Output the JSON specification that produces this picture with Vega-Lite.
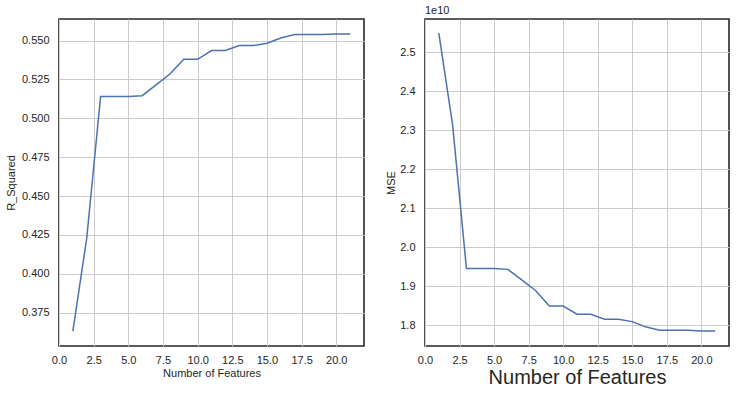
{
  "$schema": "https://vega.github.io/schema/vega-lite/v6.json",
  "padding": {"left": 4, "top": 4, "right": 5, "bottom": 5},
  "background": "white",
  "spacing": 19,
  "datasets": {
    "d": [
      {"n": 1, "r2": 0.3632, "mse": 25490000000},
      {"n": 2, "r2": 0.4229, "mse": 23130000000},
      {"n": 3, "r2": 0.5141, "mse": 19450000000},
      {"n": 4, "r2": 0.5141, "mse": 19450000000},
      {"n": 5, "r2": 0.5141, "mse": 19450000000},
      {"n": 6, "r2": 0.5146, "mse": 19430000000},
      {"n": 7, "r2": 0.5215, "mse": 19160000000},
      {"n": 8, "r2": 0.5285, "mse": 18890000000},
      {"n": 9, "r2": 0.5380, "mse": 18490000000},
      {"n": 10, "r2": 0.5380, "mse": 18490000000},
      {"n": 11, "r2": 0.5436, "mse": 18280000000},
      {"n": 12, "r2": 0.5436, "mse": 18280000000},
      {"n": 13, "r2": 0.5468, "mse": 18150000000},
      {"n": 14, "r2": 0.5468, "mse": 18150000000},
      {"n": 15, "r2": 0.5483, "mse": 18090000000},
      {"n": 16, "r2": 0.5517, "mse": 17950000000},
      {"n": 17, "r2": 0.5539, "mse": 17867000000},
      {"n": 18, "r2": 0.5539, "mse": 17867000000},
      {"n": 19, "r2": 0.5539, "mse": 17867000000},
      {"n": 20, "r2": 0.5542, "mse": 17850000000},
      {"n": 21, "r2": 0.5542, "mse": 17850000000}
    ]
  },
  "hconcat": [
    {
      "width": 305,
      "height": 327,
      "data": {"name": "d"},
      "mark": {"type": "line", "color": "#4c72b0", "strokeWidth": 1.5},
      "encoding": {
        "x": {
          "field": "n", "type": "quantitative",
          "scale": {"domain": [0, 22], "nice": false, "zero": false},
          "axis": {"title": "Number of Features", "values": [0, 2.5, 5, 7.5, 10, 12.5, 15, 17.5, 20], "format": ".1f", "labelPadding": 8, "titlePadding": 2}
        },
        "y": {
          "field": "r2", "type": "quantitative",
          "scale": {"domain": [0.3536, 0.5639], "nice": false, "zero": false},
          "axis": {"title": "R_Squared", "values": [0.375, 0.4, 0.425, 0.45, 0.475, 0.5, 0.525, 0.55], "format": ".3f", "titlePadding": 5}
        }
      }
    },
    {
      "width": 304,
      "height": 327,
      "title": {"text": "1e10", "anchor": "start", "frame": "group", "fontSize": 11, "fontWeight": "normal", "font": "Liberation Sans", "color": "#262626", "offset": 3},
      "data": {"name": "d"},
      "mark": {"type": "line", "color": "#4c72b0", "strokeWidth": 1.5},
      "encoding": {
        "x": {
          "field": "n", "type": "quantitative",
          "scale": {"domain": [0, 22], "nice": false, "zero": false},
          "axis": {"title": "Number of Features", "titleFontSize": 20, "values": [0, 2.5, 5, 7.5, 10, 12.5, 15, 17.5, 20], "format": ".1f", "labelPadding": 8, "titlePadding": 2}
        },
        "y": {
          "field": "mse", "type": "quantitative",
          "scale": {"domain": [17465000000, 25850000000], "nice": false, "zero": false},
          "axis": {"title": "MSE", "values": [18000000000, 19000000000, 20000000000, 21000000000, 22000000000, 23000000000, 24000000000, 25000000000], "labelExpr": "format(datum.value / 1e10, '.1f')", "titlePadding": 3}
        }
      }
    }
  ],
  "config": {
    "view": {"stroke": "#262626", "strokeWidth": 1.6},
    "axis": {
      "domain": false,
      "ticks": false,
      "grid": true,
      "gridColor": "#cccccc",
      "gridWidth": 1,
      "labelFont": "Liberation Sans",
      "labelFontSize": 11,
      "labelColor": "#262626",
      "labelFlush": false,
      "labelOverlap": false,
      "labelPadding": 10,
      "titleFont": "Liberation Sans",
      "titleFontSize": 11,
      "titleFontWeight": "normal",
      "titleColor": "#262626"
    }
  }
}
